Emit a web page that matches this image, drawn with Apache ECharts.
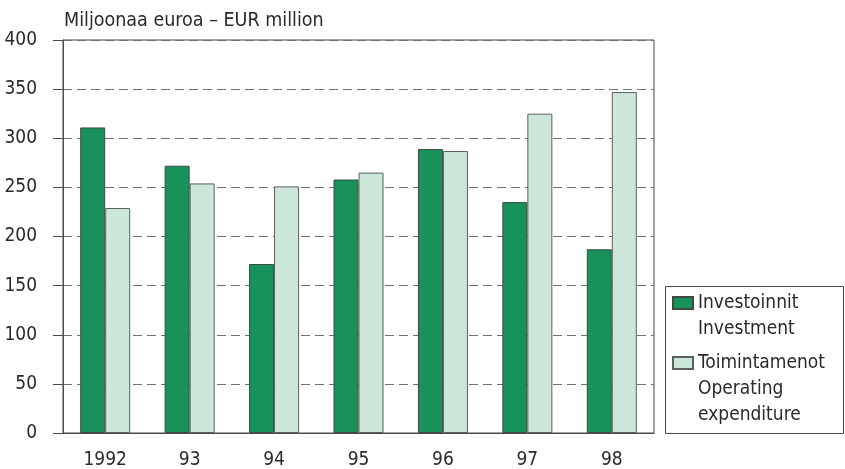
<!DOCTYPE html>
<html>
<head>
<meta charset="utf-8">
<script src="https://cdn.jsdelivr.net/npm/echarts@6/dist/echarts.min.js"></script>
<style>
html,body{margin:0;padding:0;background:#fff;}
#c{width:845px;height:469px;}
</style>
</head>
<body>
<div id="c"></div>
<script>
const categories = ['1992', '93', '94', '95', '96', '97', '98'];
const investment = [311, 272, 172, 258, 289, 235, 187];
const operating = [229, 254, 251, 265, 287, 325, 347];
const seriesNames = ['Investoinnit\nInvestment', 'Toimintamenot\nOperating\nexpenditure'];
const yTicks = { min: 0, max: 400, interval: 50 };
const unitTitle = 'Miljoonaa euroa – EUR million';

const FONT = '"Liberation Sans Narrow", "DejaVu Sans Condensed", "Arial Narrow", sans-serif';
const TXT = '#2a2a2a';
const AX = '#4a4a4a';
const LH = 26;

function legendFor(idx, iconTop) {
  const lines = seriesNames[idx].split('\n').length;
  const pad = (lines - 1) * LH;
  const outer = lines * LH + pad;
  return {
    orient: 'vertical',
    left: 672, top: iconTop - (outer / 2 - 6),
    padding: 0,
    itemWidth: 20, itemHeight: 12,
    icon: 'rect',
    selectedMode: false,
    formatter: function (name) { return name; },
    textStyle: { fontFamily: FONT, fontSize: 19, color: TXT, lineHeight: LH, rich: {} },
    data: [{
      name: seriesNames[idx],
      textStyle: { padding: [pad, 0, 0, 0] }
    }]
  };
}

const chart = echarts.init(document.getElementById('c'), null, { renderer: 'canvas' });
chart.setOption({
  animation: false,
  backgroundColor: '#fff',
  textStyle: { fontFamily: FONT },
  title: {
    text: unitTitle,
    left: 64, top: 11,
    padding: 0,
    textStyle: { fontFamily: FONT, fontSize: 19.5, fontWeight: 'normal', color: TXT }
  },
  grid: {
    left: 63, right: 191, top: 40, bottom: 36,
    outerBoundsMode: 'none',
    containLabel: false,
    show: true, borderColor: AX, borderWidth: 1, backgroundColor: 'transparent'
  },
  legend: [legendFor(0, 297), legendFor(1, 357)],
  graphic: [{
    type: 'rect', z: -1,
    shape: { x: 665.5, y: 286.5, width: 178, height: 147 },
    style: { fill: 'transparent', stroke: AX, lineWidth: 1 }
  }],
  xAxis: {
    type: 'category',
    data: categories,
    boundaryGap: true,
    axisLine: { lineStyle: { color: AX, width: 1 } },
    axisTick: { alignWithLabel: true, length: 9, lineStyle: { color: AX } },
    axisLabel: { fontFamily: FONT, fontSize: 19, color: TXT, margin: 18 },
    splitLine: { show: false }
  },
  yAxis: {
    type: 'value',
    min: yTicks.min, max: yTicks.max, interval: yTicks.interval,
    axisLine: { show: true, lineStyle: { color: AX, width: 1 } },
    axisTick: { show: true, length: 10, lineStyle: { color: AX } },
    axisLabel: { fontFamily: FONT, fontSize: 19, color: TXT, margin: 26 },
    splitLine: { show: true, lineStyle: { color: '#707070', width: 1, type: [9, 5] } }
  },
  series: [
    {
      name: seriesNames[0], type: 'bar', data: investment,
      barWidth: 25, barGap: '0%',
      itemStyle: { color: '#18925a', borderColor: '#3f4a44', borderWidth: 1 }
    },
    {
      name: seriesNames[1], type: 'bar', data: operating,
      barWidth: 25, barGap: '0%',
      itemStyle: { color: '#cde6da', borderColor: '#5a605c', borderWidth: 1 }
    }
  ]
});
</script>
</body>
</html>
